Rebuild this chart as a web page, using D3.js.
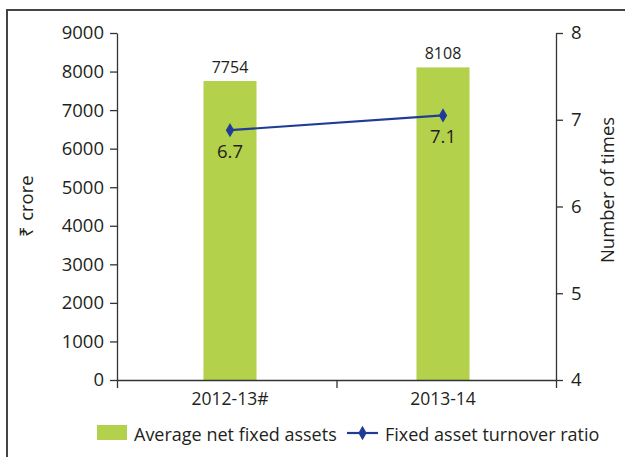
<!DOCTYPE html>
<html><head><meta charset="utf-8">
<script src="https://cdn.jsdelivr.net/npm/d3@7"></script>
<style>body{margin:0;background:#fff}svg{display:block}text{font-family:"Open Sans",sans-serif;fill:#231f20}</style>
</head><body><svg id="c" width="625" height="457"></svg>
<script>
const categories = ["2012-13#", "2013-14"];
const assetValues = [7754, 8108];
const ratioValues = [6.88, 7.05];
const ratioLabels = ["6.7", "7.1"];
const leftTicks = [0,1000,2000,3000,4000,5000,6000,7000,8000,9000];
const rightTicks = [4,5,6,7,8];
const seriesNames = ["Average net fixed assets", "Fixed asset turnover ratio"];

const svg = d3.select("#c");
const L = 117, R = 556, T = 33, B = 380;
const green = "#b3d14a", blue = "#1f3c96", axisC = "#333";

// frame
svg.append("path").attr("d","M7,470 V10 H640").attr("fill","none").attr("stroke","#444").attr("stroke-width",2);

const x = d3.scaleBand().domain(categories).range([L,R]).paddingInner(0.751).paddingOuter(0.406);
const yL = d3.scaleLinear().domain([0,9000]).range([B,T]);
const yR = d3.scaleLinear().domain([4,8]).range([B,T]);

// bars
svg.selectAll("rect.bar").data(assetValues).join("rect")
  .attr("x",(d,i)=>x(categories[i])).attr("width",x.bandwidth())
  .attr("y",d=>yL(d)).attr("height",d=>B-yL(d)).attr("fill",green);
svg.selectAll("text.bv").data(assetValues).join("text")
  .attr("x",(d,i)=>x(categories[i])+x.bandwidth()/2).attr("y",d=>yL(d)-8)
  .attr("text-anchor","middle").attr("font-size",16).text(d=>d);

// left axis
const gl = svg.append("g").attr("transform",`translate(${L},0)`)
  .call(d3.axisLeft(yL).tickValues(leftTicks).tickFormat(d3.format("d")).tickSize(7).tickSizeOuter(0).tickPadding(6));
gl.selectAll("text").attr("font-size",18.5).attr("font-family","Open Sans").attr("fill","#231f20");
// right axis
const gr = svg.append("g").attr("transform",`translate(${R},0)`)
  .call(d3.axisRight(yR).tickValues(rightTicks).tickFormat(d3.format("d")).tickSize(7).tickSizeOuter(0).tickPadding(8));
gr.selectAll("text").attr("font-size",18.5).attr("font-family","Open Sans").attr("fill","#231f20");
// bottom axis
const xb = d3.scaleLinear().domain([0,2]).range([L,R]);
svg.append("g").attr("transform",`translate(0,${B})`)
  .call(d3.axisBottom(xb).tickValues([0,1,2]).tickSize(8).tickSizeOuter(0).tickFormat(""));
svg.selectAll("text.xl").data(categories).join("text")
  .attr("x",d=>x(d)+x.bandwidth()/2).attr("y",B+25).attr("text-anchor","middle")
  .attr("font-size",17.5).text(d=>d);
svg.selectAll(".domain, .tick line").attr("stroke",axisC).attr("stroke-width",1.3);

// line
const cx = (d,i)=>x(categories[i])+x.bandwidth()/2;
const line = d3.line().x((d,i)=>cx(d,i)).y(d=>yR(d));
svg.append("path").datum(ratioValues).attr("d",line).attr("fill","none").attr("stroke",blue).attr("stroke-width",2.2);
const diamond = d3.symbol().type(d3.symbolDiamond).size(60);
svg.selectAll("path.pt").data(ratioValues).join("path")
  .attr("transform",(d,i)=>`translate(${cx(d,i)},${yR(d)})`).attr("d",diamond).attr("fill",blue);
svg.selectAll("text.pl").data(ratioValues).join("text")
  .attr("x",(d,i)=>cx(d,i)).attr("y",d=>yR(d)+28).attr("text-anchor","middle")
  .attr("font-size",18.5).text((d,i)=>ratioLabels[i]);

// axis titles
svg.append("text").attr("transform","translate(33,206) rotate(-90)").attr("text-anchor","middle")
  .attr("font-size",18.5).text("₹ crore");
svg.append("text").attr("transform","translate(614,190) rotate(-90)").attr("text-anchor","middle")
  .attr("font-size",18.5).text("Number of times");

// legend
svg.append("rect").attr("x",97).attr("y",425).attr("width",30).attr("height",15).attr("fill",green);
svg.append("text").attr("x",134).attr("y",441).attr("font-size",18).text(seriesNames[0]);
svg.append("line").attr("x1",347).attr("x2",378).attr("y1",433).attr("y2",433).attr("stroke",blue).attr("stroke-width",2.2);
svg.append("path").attr("transform","translate(362.5,433)").attr("d",diamond).attr("fill",blue);
svg.append("text").attr("x",385).attr("y",441).attr("font-size",18).text(seriesNames[1]);
</script></body></html>
